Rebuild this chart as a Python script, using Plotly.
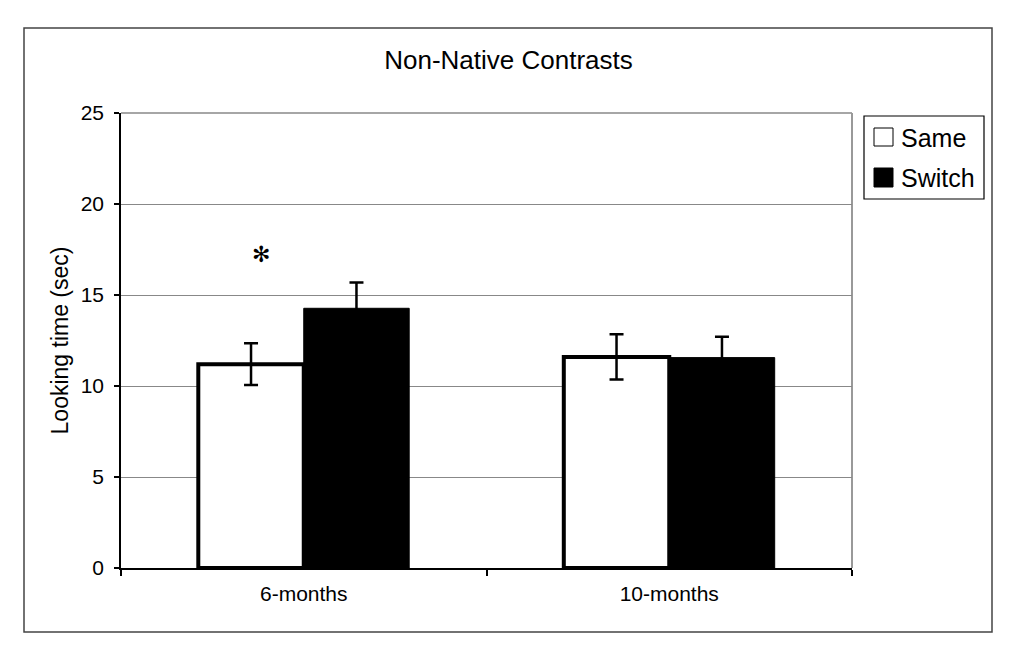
import plotly.graph_objects as go

# ---- data ----
categories = ["6-months", "10-months"]
same_values = [11.2, 11.6]
same_errors = [1.15, 1.24]
switch_values = [14.27, 11.56]
switch_errors = [1.41, 1.15]
y_ticks = [0, 5, 10, 15, 20, 25]
title_text = "Non-Native Contrasts"
y_title = "Looking time (sec)"
series_names = ["Same", "Switch"]

# ---- layout geometry (page pixels; the page body has an 8px offset) ----
OFF = 8
W, H = 1024 - 2 * OFF, 651 - 2 * OFF
L, R, T, B = 121, 852, 113, 568   # plot area in page pixels
FONT = "Liberation Sans, Arial, sans-serif"


def px2x(px):
    return (px - L) / (R - L)


def px2y(py):
    return (B - py) / (B - T)


fig = go.Figure()
fig.add_trace(go.Bar(
    name=series_names[0], x=categories, y=same_values,
    marker=dict(color="white", line=dict(color="black", width=4)),
    error_y=dict(type="data", array=same_errors, color="black", thickness=2.5, width=7),
    showlegend=False,
))
fig.add_trace(go.Bar(
    name=series_names[1], x=categories, y=switch_values,
    marker=dict(color="black", line=dict(color="black", width=1)),
    error_y=dict(type="data", array=switch_errors, color="black", thickness=2.5, width=7),
    showlegend=False,
))

shapes = [
    # outer frame
    dict(type="rect", xref="paper", yref="paper", x0=px2x(24), x1=px2x(992), y0=px2y(632), y1=px2y(28),
         line=dict(color="#444444", width=1.5), layer="below"),
    # top and right plot borders
    dict(type="line", xref="paper", yref="paper", x0=0, x1=1, y0=1, y1=1,
         line=dict(color="#888888", width=1.5), layer="below"),
    dict(type="line", xref="paper", yref="paper", x0=1, x1=1, y0=0, y1=1,
         line=dict(color="#999999", width=2), layer="below"),
    # legend box
    dict(type="rect", xref="paper", yref="paper", x0=px2x(864), x1=px2x(984), y0=px2y(199), y1=px2y(116),
         line=dict(color="black", width=1.2), fillcolor="white"),
    dict(type="rect", xref="paper", yref="paper", x0=px2x(874), x1=px2x(893), y0=px2y(146), y1=px2y(128),
         line=dict(color="black", width=1), fillcolor="white"),
    dict(type="rect", xref="paper", yref="paper", x0=px2x(874), x1=px2x(893), y0=px2y(187), y1=px2y(168),
         line=dict(color="black", width=1), fillcolor="black"),
]

annotations = [
    dict(text=series_names[0], xref="paper", yref="paper", x=px2x(899), y=px2y(137.5),
         xanchor="left", yanchor="middle", showarrow=False, font=dict(size=25, color="black", family=FONT)),
    dict(text=series_names[1], xref="paper", yref="paper", x=px2x(899), y=px2y(178),
         xanchor="left", yanchor="middle", showarrow=False, font=dict(size=25, color="black", family=FONT)),
    dict(text="✻", xref="x", yref="y", x=categories[0], y=17.2, xshift=-43,
         xanchor="center", yanchor="middle", showarrow=False, font=dict(size=22, color="black", family="DejaVu Sans")),
]

fig.update_layout(
    width=W, height=H,
    margin=dict(l=L - OFF, r=(1024 - OFF) - R, t=T - OFF, b=(651 - OFF) - B, pad=0),
    paper_bgcolor="white", plot_bgcolor="white",
    barmode="group", bargap=0.423, bargroupgap=0,
    font=dict(family=FONT, color="black", size=21),
    title=dict(text=title_text, x=(508.5 - OFF) / W, xref="container", xanchor="center",
               y=1 - (60 - OFF) / H, yref="container", yanchor="middle",
               font=dict(size=26, family=FONT, color="black")),
    shapes=shapes, annotations=annotations,
    showlegend=False,
)
fig.update_xaxes(
    showline=True, linecolor="black", linewidth=1.5,
    ticks="outside", tickson="boundaries", ticklen=6, tickcolor="black", tickwidth=1.5,
    showgrid=False, tickfont=dict(size=21), ticklabelstandoff=6,
)
fig.update_yaxes(
    range=[0, 25], tickvals=y_ticks, showline=True, linecolor="black", linewidth=1.5,
    ticks="outside", ticklen=5, tickcolor="black", tickwidth=1.5,
    showgrid=True, gridcolor="#888888", gridwidth=1, zeroline=False,
    tickfont=dict(size=21), ticklabelstandoff=6,
    title=dict(text=y_title, font=dict(size=23), standoff=6),
)

fig.write_html("out.html")
